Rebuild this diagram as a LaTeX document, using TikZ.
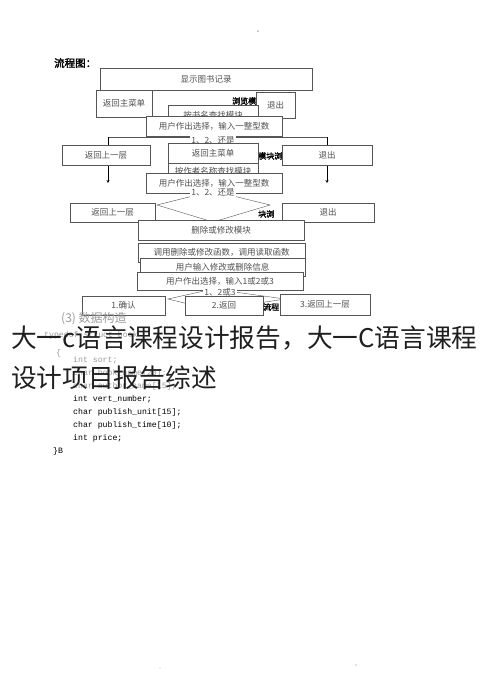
\documentclass[tikz,border=0pt]{standalone}
\usepackage{fontspec}
\setmainfont{Liberation Serif}
\newfontfamily\cjk{Noto Sans CJK SC}
\newfontfamily\cjkb[FakeBold=2]{Noto Sans CJK SC}
\newfontfamily\code{Liberation Mono}
\definecolor{boxline}{HTML}{555555}
\definecolor{boxtext}{HTML}{505050}
\definecolor{fadecode}{HTML}{9A9A9A}

\begin{document}
\begin{tikzpicture}[x=1pt,y=-1pt,>=stealth,
    box/.style={draw=boxline,fill=white,inner sep=0pt,text=boxtext,
      font=\cjk\fontsize{8.5}{9}\selectfont},
    frag/.style={anchor=west,inner sep=0pt,font=\cjkb\fontsize{8}{8}\selectfont},
    ans/.style={fill=white,inner sep=1pt,text=boxtext,font=\cjk\fontsize{8.5}{9}\selectfont},
    codeline/.style={anchor=west,inner sep=0pt,font=\code\fontsize{8.2}{9}\selectfont}]
  \useasboundingbox (0,0) rectangle (490,697);
  \fill[gray!60] (258,31) circle (1);
  \node[anchor=west,inner sep=0pt,font=\cjkb\fontsize{10.5}{11}\selectfont] (flowtitle) at (54,63) {流程图：};
  % browse module
  \node[box,minimum width=212,minimum height=22] (showrec) at (206,79) {显示图书记录};
  \node[frag] (fragA) at (232,101) {浏览模};
  \node[box,minimum width=56,minimum height=27] (mainA) at (124,103.5) {返回主菜单};
  \node[box,minimum width=39,minimum height=26] (exitA) at (275.5,105) {退出};
  \node[box,minimum width=90,minimum height=20] (byname) at (213,115) {按书名查找模块};
  \node[box,minimum width=136,minimum height=20] (chooseA) at (214,126) {用户作出选择，输入一整型数};
  \coordinate (splitL) at (108,137);
  \coordinate (splitR) at (327,137);
  \coordinate (downL) at (108,183);
  \coordinate (downR) at (327,183);
  \draw[boxline] (splitL) -- (splitR);
  \draw[->,black] (splitL) -- (downL);
  \draw[->,black] (splitR) -- (downR);
  \node[ans] (askA) at (213,140.5) {1、2、还是};
  % second row
  \node[box,minimum width=88,minimum height=20] (upA) at (106,155) {返回上一层};
  \node[frag] (fragB) at (258,156) {模块浏};
  \node[box,minimum width=90,minimum height=21] (mainB) at (213,153.5) {返回主菜单};
  \node[box,minimum width=90,minimum height=20] (exitB) at (327,155) {退出};
  \node[box,minimum width=90,minimum height=17] (byauthor) at (213,171.5) {按作者名称查找模块};
  \node[box,minimum width=136,minimum height=20] (chooseB) at (214,183) {用户作出选择，输入一整型数};
  \draw[boxline] (157,205) -- (213,191) -- (270,205) -- (213,222) -- cycle;
  \node[ans] (askB) at (213,192) {1、2、还是};
  \node[box,minimum width=85,minimum height=19] (upB) at (112.5,212.5) {返回上一层};
  \node[frag] (fragC) at (258,214) {块浏};
  \node[box,minimum width=92,minimum height=19] (exitC) at (328,212.5) {退出};
  % modify module
  \node[box,minimum width=166,minimum height=20] (modify) at (221,230) {删除或修改模块};
  \node[box,minimum width=167,minimum height=19] (callfn) at (221.5,252.5) {调用删除或修改函数，调用读取函数};
  \node[box,minimum width=165,minimum height=18] (inputinfo) at (222.5,267) {用户输入修改或删除信息};
  \node[box,minimum width=166,minimum height=18] (chooseC) at (220,281) {用户作出选择，输入1或2或3};
  \draw[boxline] (168,299) -- (213,289) -- (285,299) -- (213,310) -- cycle;
  \node[ans] (askC) at (220,292) {1、2或3};
  \node[box,minimum width=83,minimum height=19] (confirm) at (123.5,305.5) {1.确认};
  \node[box,minimum width=78,minimum height=19] (backC) at (224,305.5) {2.返回};
  \node[frag] (fragD) at (263,307) {流程};
  \node[box,minimum width=90,minimum height=21] (upC) at (325,304.5) {3.返回上一层};
  % data structure
  \node[anchor=west,inner sep=0pt,text=fadecode,font=\cjk\fontsize{12}{12}\selectfont] (datahead) at (61,319) {(3) 数据构造};
  \node[codeline,text=fadecode] (c1) at (44,335) {typedef struct book};
  \node[codeline,text=fadecode] (c2) at (56,353) {\{};
  \node[codeline,text=fadecode] (c3) at (73,360) {int sort;};
  \node[codeline,text=fadecode] (c4) at (73,373) {char book\_name[20];};
  \node[codeline,text=fadecode] (c5) at (73,386) {char author\_name[15];};
  \node[codeline] (c6) at (73,399) {int vert\_number;};
  \node[codeline] (c7) at (73,412) {char publish\_unit[15];};
  \node[codeline] (c8) at (73,425) {char publish\_time[10];};
  \node[codeline] (c9) at (73,438) {int price;};
  \node[codeline] (c10) at (53,451) {\}B};
  % overlay title
  \node[anchor=west,inner sep=0pt,text=black!88,font=\cjk\fontsize{25.7}{26}\selectfont] (headA) at (11,338) {大一c语言课程设计报告，大一C语言课程};
  \node[anchor=west,inner sep=0pt,text=black!88,font=\cjk\fontsize{25.7}{26}\selectfont] (headB) at (11,378) {设计项目报告综述};
  \fill[gray!50] (160,668) circle (0.6);
  \fill[gray!50] (356,665) circle (0.8);
\end{tikzpicture}
\end{document}
